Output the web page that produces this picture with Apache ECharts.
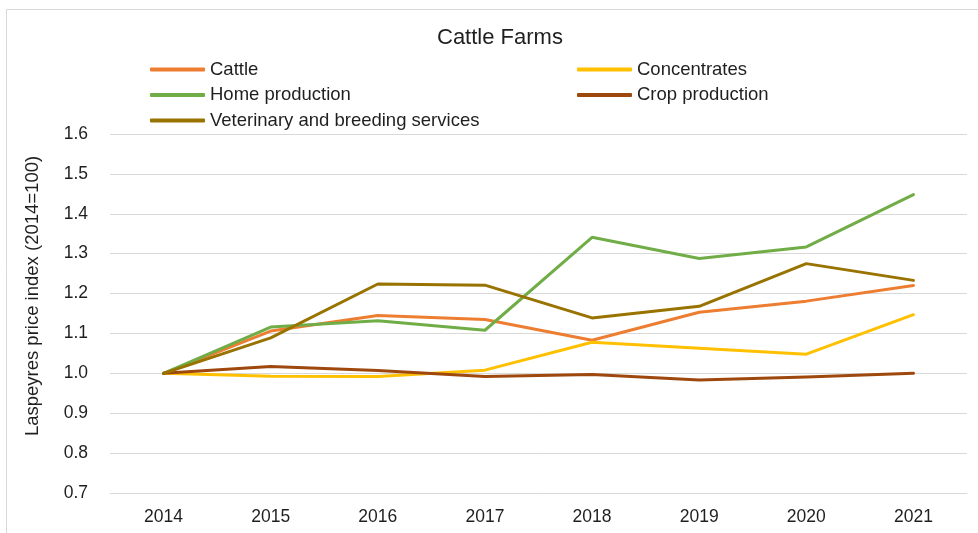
<!DOCTYPE html>
<html>
<head>
<meta charset="utf-8">
<title>Cattle Farms</title>
<script src="https://cdn.jsdelivr.net/npm/echarts@6/dist/echarts.min.js"></script>
<style>
  html, body { margin: 0; padding: 0; background: #fff; }
  #chart { width: 978px; height: 533px; }
</style>
</head>
<body>
<div id="chart"></div>
<script>
// Years on the category axis
const years = ['2014', '2015', '2016', '2017', '2018', '2019', '2020', '2021'];

// Laspeyres price index (2014 = 1.0) per input / output
const cattle        = [1.000, 1.106, 1.145, 1.135, 1.083, 1.153, 1.181, 1.220];
const concentrates  = [1.000, 0.993, 0.992, 1.008, 1.078, 1.063, 1.048, 1.147];
const homeProd      = [1.000, 1.116, 1.132, 1.108, 1.341, 1.288, 1.317, 1.448];
const cropProd      = [1.000, 1.017, 1.007, 0.992, 0.997, 0.983, 0.991, 1.000];
const vetServices   = [1.000, 1.089, 1.224, 1.221, 1.139, 1.168, 1.275, 1.233];

// Y axis range and step
const yMin = 0.7;
const yMax = 1.6;
const yStep = 0.1;

const yTitle = 'Laspeyres price index (2014=100)';

const textColor = '#1f1f1f';
const gridColor = '#d9d9d9';
const fontFamily = '"Liberation Sans", Arial, sans-serif';

const seriesDefs = [
  { name: 'Cattle', data: cattle, color: '#ED7D31' },
  { name: 'Concentrates', data: concentrates, color: '#FFC000' },
  { name: 'Home production', data: homeProd, color: '#70AD47' },
  { name: 'Crop production', data: cropProd, color: '#9E480E' },
  { name: 'Veterinary and breeding services', data: vetServices, color: '#997300' }
];

const legendBase = {
  orient: 'vertical',
  icon: 'roundRect',
  itemWidth: 55,
  itemHeight: 4,
  itemGap: 6.5,
  selectedMode: false,
  textStyle: { color: textColor, fontSize: 18.5, fontFamily: fontFamily },
  padding: 0
};

const chart = echarts.init(document.getElementById('chart'), null, { renderer: 'canvas' });

chart.setOption({
  backgroundColor: '#ffffff',
  animation: false,
  textStyle: { fontFamily: fontFamily },
  title: {
    text: 'Cattle Farms',
    left: 432,
    top: 22,
    textStyle: { color: textColor, fontSize: 22, fontWeight: 'normal', fontFamily: fontFamily }
  },
  legend: [
    Object.assign({}, legendBase, {
      left: 150,
      top: 60,
      data: ['Cattle', 'Home production', 'Veterinary and breeding services']
    }),
    Object.assign({}, legendBase, {
      left: 577,
      top: 60,
      data: ['Concentrates', 'Crop production']
    })
  ],
  graphic: [
    {
      // chart area frame
      type: 'rect',
      silent: true,
      shape: { x: 6.5, y: 9.5, width: 1000, height: 600 },
      style: { fill: 'none', stroke: gridColor, lineWidth: 1 }
    },
    {
      // vertical axis title
      type: 'text',
      silent: true,
      x: 33,
      y: 296,
      rotation: Math.PI / 2,
      style: {
        text: yTitle,
        fill: textColor,
        font: '18.5px ' + fontFamily,
        align: 'center',
        verticalAlign: 'middle'
      }
    }
  ],
  grid: { left: 110, right: 11, top: 134, bottom: 40, containLabel: false },
  xAxis: {
    type: 'category',
    data: years,
    boundaryGap: true,
    axisLine: { show: true, lineStyle: { color: gridColor, width: 1 } },
    axisTick: { show: false },
    axisLabel: { color: textColor, fontSize: 17.5, margin: 15, fontFamily: fontFamily }
  },
  yAxis: {
    type: 'value',
    min: yMin,
    max: yMax,
    interval: yStep,
    axisLine: { show: false },
    axisTick: { show: false },
    axisLabel: {
      color: textColor,
      fontSize: 17.5,
      margin: 22,
      fontFamily: fontFamily,
      formatter: v => v.toFixed(1)
    },
    splitLine: { show: true, lineStyle: { color: gridColor, width: 1 } }
  },
  series: seriesDefs.map(s => ({
    name: s.name,
    type: 'line',
    data: s.data,
    showSymbol: false,
    symbol: 'none',
    color: s.color,
    lineStyle: { color: s.color, width: 3, cap: 'round', join: 'round' },
    itemStyle: { color: s.color }
  }))
});
</script>
</body>
</html>
